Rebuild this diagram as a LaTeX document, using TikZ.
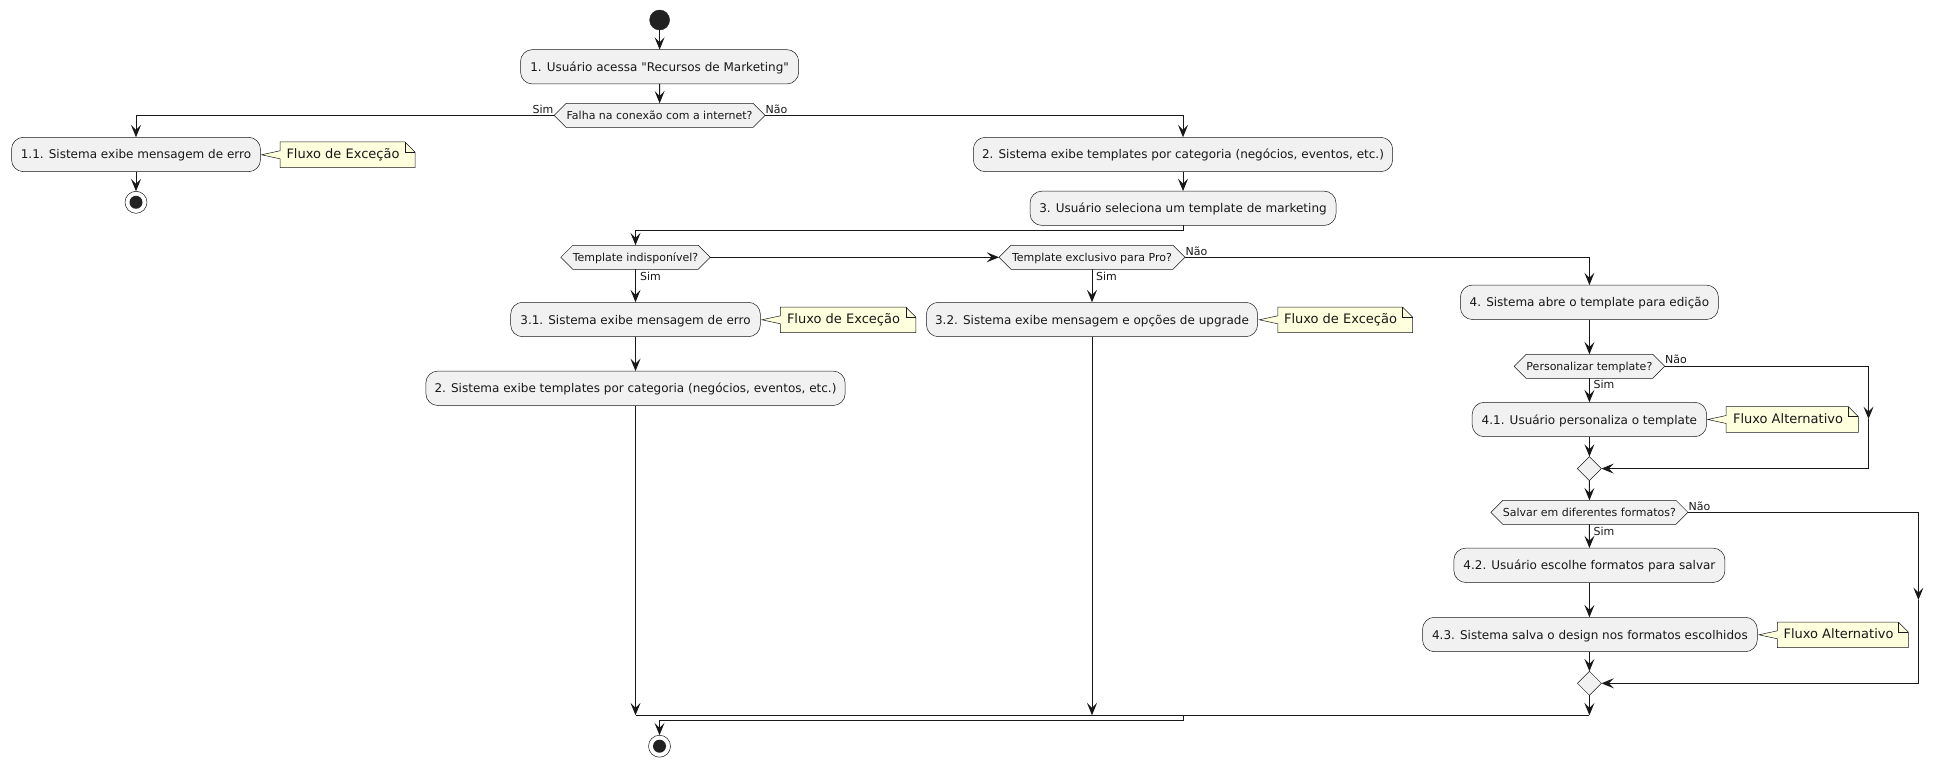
\documentclass[tikz,border=0pt]{standalone}
\usepackage{fontspec}
\setmainfont[Ligatures=TeXOff]{DejaVu Sans}
\usetikzlibrary{arrows.meta,shapes.geometric,shapes.symbols}
\definecolor{ink}{HTML}{181818}
\definecolor{boxfill}{HTML}{F1F1F1}
\definecolor{notefill}{HTML}{FEFFDD}
\definecolor{dotfill}{HTML}{222222}
% note body with its tail, #1 left, #2 top, #3 right, #4 bottom
\newcommand{\notebody}[4]{
    \draw[notebody] (#1,#2) -- (#3-10,#2) -- (#3,#2+10) -- (#3,#4) -- (#1,#4)
        -- (#1,{(#2+#4)/2+4}) -- (#1-18.5,{(#2+#4)/2}) -- (#1,{(#2+#4)/2-4}) -- cycle;
    \draw[notebody,fill=none] (#3-10,#2) -- (#3-10,#2+10) -- (#3,#2+10);
}
\begin{document}
\begin{tikzpicture}[x=1pt,y=-1pt]
    % Define styles
    \tikzstyle{action} = [rectangle, rounded corners=12pt, minimum height=34.4pt, inner sep=0pt, outer sep=0pt,
                          text height=10pt, text depth=1pt,
                          draw=ink, line width=0.5pt, fill=boxfill, text=ink, font=\fontsize{12}{15}\selectfont]
    \tikzstyle{decision} = [signal, signal to=west and east, signal pointer angle=90, minimum height=24pt,
                          text height=10pt, text depth=1.6pt, inner sep=0pt, outer sep=0pt, draw=ink, line width=0.5pt,
                          fill=boxfill, text=ink, font=\fontsize{11}{14}\selectfont]
    \tikzstyle{merge} = [diamond, minimum width=24pt, minimum height=24pt, inner sep=0pt, outer sep=0pt,
                          draw=ink, line width=0.5pt, fill=boxfill]
    \tikzstyle{startdot} = [circle, minimum size=20pt, inner sep=0pt, outer sep=0pt, draw=dotfill, fill=dotfill]
    \tikzstyle{stopring} = [circle, minimum size=22pt, inner sep=0pt, outer sep=0pt, draw=ink, line width=0.5pt, fill=white]
    \tikzstyle{stopdot} = [circle, minimum size=13pt, inner sep=0pt, outer sep=0pt, fill=dotfill]
    \tikzstyle{notebody} = [draw=ink, line width=0.5pt, fill=notefill]
    \tikzstyle{notetext} = [inner sep=0pt, text height=10pt, text depth=1.4pt, text=ink, font=\fontsize{13}{16}\selectfont]
    \tikzstyle{branch} = [inner sep=0pt, text height=8pt, text depth=0pt, text=ink, font=\fontsize{11}{14}\selectfont]
    \tikzstyle{arrow} = [line width=1pt, draw=ink, -{Stealth[length=12.4pt,width=10pt,inset=5pt]}]
    \tikzstyle{line} = [line width=1pt, draw=ink]

    \useasboundingbox (0,0) rectangle (1943,767);

    % Left and top nodes
    \node[startdot] (start) at (659.6,20) {};
    \node[action, minimum width=278.2pt] (access) at (659.6,66.8) {1. Usuário acessa "Recursos de Marketing"};
    \node[decision, minimum width=211pt] (connfail) at (659.6,115.3) {Falha na conexão com a internet?};
    \node[action, minimum width=249pt] (connerror) at (136,154.5) {1.1. Sistema exibe mensagem de erro};
    \node[stopring] (stopleft) at (136,202.3) {};
    \node[stopdot] (stopleftdot) at (stopleft) {};

    % Middle nodes
    \node[action, minimum width=419.3pt] (showall) at (1183,154.5) {2. Sistema exibe templates por categoria (negócios, eventos, etc.)};
    \node[action, minimum width=306pt] (choose) at (1183,208.3) {3. Usuário seleciona um template de marketing};
    \coordinate (choosedown) at (1183,230.3);
    \node[decision, minimum width=149pt] (missing) at (635.5,257.3) {Template indisponível?};
    \node[decision, minimum width=186pt] (proonly) at (1092,257.3) {Template exclusivo para Pro?};
    \node[action, minimum width=249.7pt] (missingerror) at (635.5,319.5) {3.1. Sistema exibe mensagem de erro};
    \node[action, minimum width=419.3pt] (showagain) at (635.5,388.3) {2. Sistema exibe templates por categoria (negócios, eventos, etc.)};
    \node[action, minimum width=331.2pt] (upgrade) at (1092,319.5) {3.2. Sistema exibe mensagem e opções de upgrade};

    % Right column
    \node[action, minimum width=258pt] (opentpl) at (1589.4,302.3) {4. Sistema abre o template para edição};
    \node[decision, minimum width=150.6pt] (custom) at (1589.4,366.3) {Personalizar template?};
    \node[action, minimum width=234.4pt] (customize) at (1589.4,419.5) {4.1. Usuário personaliza o template};
    \node[merge] (mergeone) at (1589.4,468.6) {};
    \coordinate (customside) at (1868.5,419);
    \node[decision, minimum width=197pt] (formats) at (1589.4,512.3) {Salvar em diferentes formatos?};
    \node[action, minimum width=271.1pt] (pick) at (1589.4,565.3) {4.2. Usuário escolhe formatos para salvar};
    \node[action, minimum width=334.8pt] (save) at (1589.9,634.5) {4.3. Sistema salva o design nos formatos escolhidos};
    \node[merge] (mergetwo) at (1589.4,683.3) {};
    \coordinate (formatside) at (1918.4,600);

    % Bottom bars and final stop
    \coordinate (barleft) at (635.5,715.3);
    \coordinate (barmid) at (1092,715.3);
    \coordinate (barright) at (1589.4,715.3);
    \coordinate (barup) at (1183,715.3);
    \coordinate (bardown) at (1183,720.3);
    \node[stopring] (stopend) at (659.5,746.2) {};
    \node[stopdot] (stopenddot) at (stopend) {};

    % Notes
    \notebody{280}{142}{415}{167.6}
    \node[notetext] (noteone) at (343,154.2) {Fluxo de Exceção};
    \notebody{780.4}{307}{915.8}{332.6}
    \node[notetext] (notetwo) at (843.5,319.2) {Fluxo de Exceção};
    \notebody{1277.8}{307}{1412.5}{332.6}
    \node[notetext] (notethree) at (1340.5,319.2) {Fluxo de Exceção};
    \notebody{1726.2}{406.7}{1858.4}{432.3}
    \node[notetext] (notefour) at (1788,419) {Fluxo Alternativo};
    \notebody{1777.4}{622}{1908.3}{647.6}
    \node[notetext] (notefive) at (1838.5,634.2) {Fluxo Alternativo};

    % Arrows
    \draw[arrow] (start) -- (access);
    \draw[arrow] (access) -- (connfail);
    \draw[arrow] (connfail.west) -| (connerror.north);
    \draw[arrow] (connerror) -- (stopleft);
    \draw[arrow] (connfail.east) -| (showall.north);
    \draw[arrow] (showall) -- (choose);
    \draw[arrow] (choose.south) -- (choosedown) -| (missing.north);
    \draw[arrow] (missing.east) -- (proonly.west);
    \draw[arrow] (missing) -- (missingerror);
    \draw[arrow] (missingerror) -- (showagain);
    \draw[arrow] (showagain) -- (barleft);
    \draw[arrow] (proonly) -- (upgrade);
    \draw[arrow] (upgrade) -- (barmid);
    \draw[arrow] (proonly.east) -| (opentpl.north);
    \draw[arrow] (opentpl) -- (custom);
    \draw[arrow] (custom) -- (customize);
    \draw[arrow] (customize) -- (mergeone);
    \draw[arrow] (custom.east) -| (customside);
    \draw[arrow] (customside) |- (mergeone.east);
    \draw[arrow] (mergeone) -- (formats);
    \draw[arrow] (formats) -- (pick);
    \draw[arrow] (pick.south) -- (pick.south |- save.north);
    \draw[arrow] (save.south -| mergetwo) -- (mergetwo.north);
    \draw[arrow] (formats.east) -| (formatside);
    \draw[arrow] (formatside) |- (mergetwo.east);
    \draw[arrow] (mergetwo) -- (barright);
    \draw[line] (barright) -- (barleft);
    \draw[arrow] (barup) -- (bardown) -| (stopend.north);

    % Branch labels
    \node[branch] (simone) at (543,109.5) {Sim};
    \node[branch] (naoone) at (776.5,109.5) {Não};
    \node[branch] (simtwo) at (650.5,276.5) {Sim};
    \node[branch] (simthree) at (1106.5,276.5) {Sim};
    \node[branch] (naotwo) at (1196.5,251.5) {Não};
    \node[branch] (naothree) at (1676,359.5) {Não};
    \node[branch] (simfour) at (1604,384) {Sim};
    \node[branch] (naofour) at (1699.5,506) {Não};
    \node[branch] (simfive) at (1604,531) {Sim};
\end{tikzpicture}
\end{document}
